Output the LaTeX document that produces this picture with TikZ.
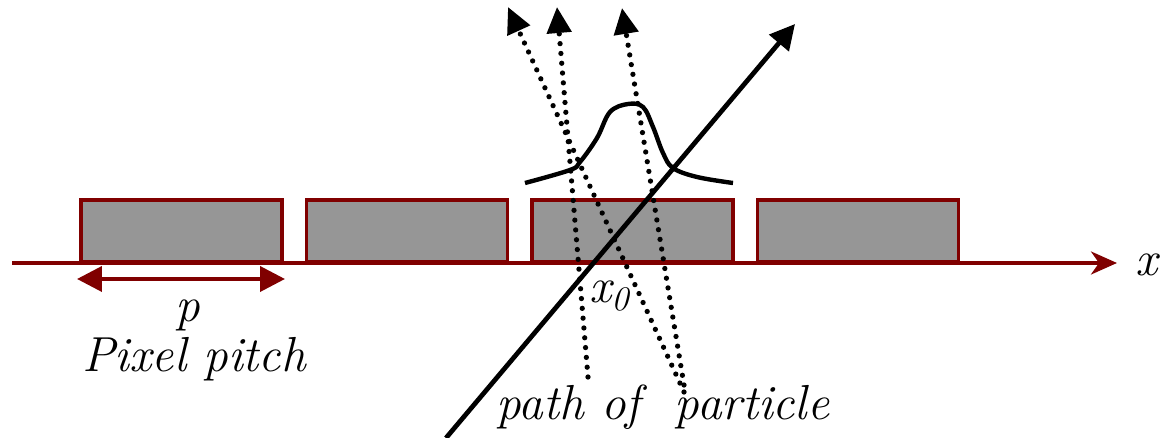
\documentclass[tikz,border=0pt]{standalone}
\usetikzlibrary{arrows.meta}
\definecolor{pixelred}{RGB}{128,0,0}
\definecolor{pixelgray}{RGB}{150,150,150}

\begin{document}
\begin{tikzpicture}[
    x=0.02cm, y=-0.02cm,
    pixel/.style={draw=pixelred, fill=pixelgray, line width=2.2pt, minimum width=4.02cm, minimum height=1.24cm, inner sep=0pt, outer sep=0pt},
    axis/.style={-{Stealth[length=0.52cm,width=0.46cm,inset=0.16cm]}, line width=2pt, pixelred},
    pitch/.style={{Triangle[length=0.5cm,width=0.5cm]}-{Triangle[length=0.5cm,width=0.5cm]}, line width=2.2pt, pixelred},
    track/.style={-{Triangle[length=0.5cm,width=0.5cm]}, line width=2.7pt},
    ghost/.style={-{Triangle[length=0.52cm,width=0.48cm]}, line width=3pt, line cap=round, dash pattern=on 0pt off 5.6pt},
    label/.style={font=\fontsize{28}{32}\selectfont\itshape, inner sep=0pt}
]
\useasboundingbox (0,0) rectangle (1160,438);

% detector axis
\coordinate (xstart) at (12,263);
\coordinate (xend) at (1117,263);
\draw[axis] (xstart) -- (xend);
\node[label, anchor=base west] (xlabel) at (1135,276) {x};

% pixels
\foreach \i in {1,...,4}
    \node[pixel] (pix\i) at ({181.5+225.5*(\i-1)},231) {};

% pitch
\coordinate (pitchL) at (77,279);
\coordinate (pitchR) at (285,279);
\draw[pitch] (pitchL) -- (pitchR);
\node[label, anchor=base] (plabel) at (188,322) {p};
\node[label, anchor=base] (pitchlabel) at (194,372) {Pixel pitch};

% charge sharing
\draw[line width=2.5pt] plot[smooth, tension=0.6] coordinates {
    (525,183) (570,170) (580,162) (597,138) (610,112) (628,104)
    (643,107) (653,127) (663,153) (673,168) (697,177) (733,183)};

% particle tracks
\coordinate (trackin) at (446,438);
\coordinate (trackout) at (795,24);
\draw[track] (trackin) -- (trackout);

\coordinate (ghostAin) at (684,392);
\coordinate (ghostAout) at (508,7);
\coordinate (ghostBin) at (588,377);
\coordinate (ghostBout) at (557,7);
\coordinate (ghostCin) at (684,385);
\coordinate (ghostCout) at (622,8);
\draw[ghost] (ghostAin) -- (ghostAout);
\draw[ghost] (ghostBin) -- (ghostBout);
\draw[ghost] (ghostCin) -- (ghostCout);

% annotations
\node[label, anchor=base west] (x0label) at (589,303) {x\textsubscript{0}};
\node[label, anchor=base] (pathlabel) at (663,420) {path of~ particle};
\end{tikzpicture}
\end{document}
